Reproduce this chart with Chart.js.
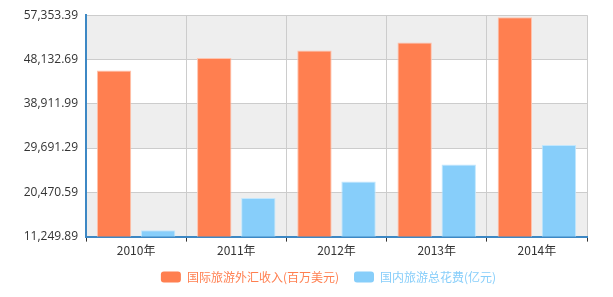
<!DOCTYPE html>
<html>
<head>
<meta charset="utf-8">
<script src="https://cdn.jsdelivr.net/npm/chart.js@4/dist/chart.umd.min.js"></script>
<style>
  html, body { margin: 0; padding: 0; background: #fff; }
  #wrap { width: 613px; height: 297px; }
</style>
</head>
<body>
<div id="wrap"><canvas id="tourChart"></canvas></div>
<script>
// 数据
const years = ['2010年', '2011年', '2012年', '2013年', '2014年'];
const foreignIncome = [45814, 48464, 50028, 51664, 56913];     // 百万美元
const domesticSpend = [12579.8, 19305.4, 22706.2, 26276.1, 30311.9]; // 亿元
const yTicks = [11249.89, 20470.59, 29691.29, 38911.99, 48132.69, 57353.39];

const orange = '#ff7f50';
const blue = '#87cefa';
const axisBlue = '#3d88c4';

// 背景条纹
const bandPlugin = {
    id: 'bands',
    beforeDraw(chart) {
        const { ctx, chartArea, scales } = chart;
        const y = scales.y;
        ctx.save();
        for (let i = 0; i < yTicks.length - 1; i++) {
            const top = y.getPixelForValue(yTicks[i + 1]);
            const bottom = y.getPixelForValue(yTicks[i]);
            ctx.fillStyle = (i % 2 === 0) ? '#eeeeee' : '#ffffff';
            ctx.fillRect(chartArea.left, top, chartArea.right - chartArea.left, bottom - top);
        }
        ctx.restore();
    }
};

// 图例居中于绘图区而不是整个画布
const legendShift = {
    id: 'legendShift',
    afterLayout(chart) {
        const lg = chart.legend;
        const dx = (chart.chartArea.left + chart.chartArea.right) / 2 - (lg.left + lg.right) / 2 - 8;
        lg.left += dx;
        lg.right += dx;
        lg.top -= 4;
        lg.bottom -= 4;
    }
};

const ctx = document.getElementById('tourChart').getContext('2d');

const tourChart = new Chart(ctx, {
    type: 'bar',
    data: {
        labels: years,
        datasets: [{
            label: '国际旅游外汇收入(百万美元)',
            data: foreignIncome,
            backgroundColor: orange,
            borderColor: '#ffc4ae',
            borderWidth: 1,
            categoryPercentage: 0.88,
            barPercentage: 0.78
        }, {
            label: '国内旅游总花费(亿元)',
            data: domesticSpend,
            backgroundColor: blue,
            borderColor: '#c2e7fd',
            borderWidth: 1,
            categoryPercentage: 0.88,
            barPercentage: 0.78
        }]
    },
    options: {
        responsive: true,
        maintainAspectRatio: false,
        animation: false,
        layout: { padding: { top: 8, right: 26, left: 0, bottom: 0 } },
        plugins: {
            tooltip: { enabled: false },
            legend: {
                position: 'bottom',
                labels: {
                    boxWidth: 20,
                    boxHeight: 11,
                    useBorderRadius: true,
                    borderRadius: 3,
                    padding: 15,
                    font: { family: '"Noto Sans CJK SC", sans-serif', size: 12 },
                    generateLabels(chart) {
                        return chart.data.datasets.map((ds, i) => ({
                            text: ds.label,
                            fillStyle: ds.backgroundColor,
                            strokeStyle: ds.backgroundColor,
                            lineWidth: 0,
                            fontColor: ds.backgroundColor,
                            borderRadius: 3,
                            hidden: false,
                            datasetIndex: i
                        }));
                    }
                }
            }
        },
        scales: {
            x: {
                offset: true,
                grid: {
                    offset: true,
                    color: '#cccccc',
                    drawTicks: true,
                    tickLength: 5,
                    tickColor: '#333333'
                },
                border: { color: axisBlue, width: 2 },
                ticks: {
                    color: '#333',
                    padding: 2,
                    font: { family: '"Noto Sans CJK SC", sans-serif', size: 12 }
                }
            },
            y: {
                min: yTicks[0],
                max: yTicks[yTicks.length - 1],
                afterBuildTicks(scale) {
                    scale.ticks = yTicks.map(v => ({ value: v }));
                },
                afterFit(scale) { scale.width = 86; },
                grid: { color: '#cccccc', drawTicks: false },
                border: { color: axisBlue, width: 2 },
                ticks: {
                    color: '#333',
                    padding: 8,
                    font: { family: '"Open Sans", sans-serif', size: 12 },
                    callback: v => v.toLocaleString('en-US', { minimumFractionDigits: 2, maximumFractionDigits: 2 })
                }
            }
        }
    },
    plugins: [bandPlugin, legendShift]
});
</script>
</body>
</html>
